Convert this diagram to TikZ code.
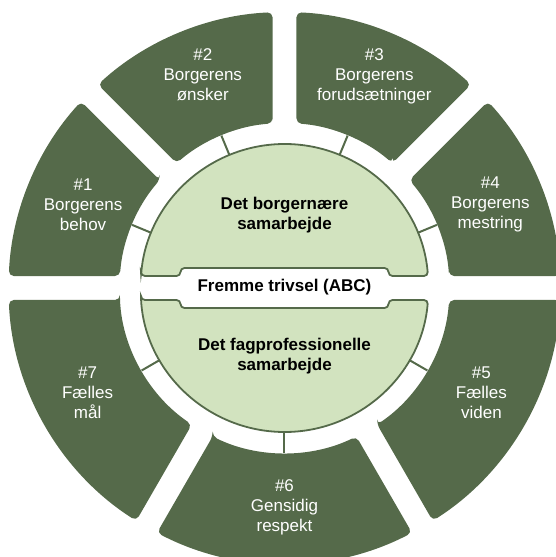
\documentclass[tikz,border=0pt]{standalone}
\usepackage{fontspec}
\setmainfont{Liberation Sans}
\definecolor{ringgreen}{HTML}{556A4A}
\definecolor{coregreen}{HTML}{D2E3BF}

\begin{document}
\begin{tikzpicture}[x=1pt, y=1pt,
        segment/.style={fill=ringgreen, rounded corners=5pt},
        halfdisc/.style={fill=coregreen, draw=ringgreen, line width=1.8pt, rounded corners=4pt},
        spoke/.style={draw=ringgreen, line width=2pt},
        seglabel/.style={text=white, align=center, font=\fontsize{17}{20}\selectfont},
        corelabel/.style={text=black, align=center, font=\fontsize{17}{20}\selectfont\bfseries}]
            \useasboundingbox (-284.5, -269) rectangle (270.5, 288);

            % outer ring, one sector per step
            \foreach \a/\b in {135/180, 90/135, 45/90, 0/45, -60/0, -120/-60, -180/-120}
                \fill[segment] ({\a+4.17}:165) -- ({\a+2.49}:276)
                    arc[start angle={\a+2.49}, end angle={\b-2.49}, radius=276]
                    -- ({\b-4.17}:165)
                    arc[start angle={\b-4.17}, end angle={\a+4.17}, radius=165] -- cycle;

            % the two halves of the core
            \draw[halfdisc] (175.22:144) -- (-104, 12) -- (-104, 20) -- (104, 20) -- (104, 12)
                -- (4.78:144) arc[start angle=4.78, end angle=175.22, radius=144] -- cycle;
            \draw[halfdisc] (-175.22:144) -- (-104, -12) -- (-104, -20) -- (104, -20) -- (104, -12)
                -- (-4.78:144) arc[start angle=-4.78, end angle=-175.22, radius=144] -- cycle;

            % spokes from core to ring
            \coordinate (in1) at (157.5:144);
            \coordinate (out1) at (157.5:165);
            \coordinate (in2) at (112.5:144);
            \coordinate (out2) at (112.5:165);
            \coordinate (in3) at (67.5:144);
            \coordinate (out3) at (67.5:165);
            \coordinate (in4) at (22.5:144);
            \coordinate (out4) at (22.5:165);
            \coordinate (in5) at (-30:144);
            \coordinate (out5) at (-30:165);
            \coordinate (in6) at (-90:144);
            \coordinate (out6) at (-90:165);
            \coordinate (in7) at (-150:144);
            \coordinate (out7) at (-150:165);

            \draw[spoke] (in1) -- (out1);
            \draw[spoke] (in2) -- (out2);
            \draw[spoke] (in3) -- (out3);
            \draw[spoke] (in4) -- (out4);
            \draw[spoke] (in5) -- (out5);
            \draw[spoke] (in6) -- (out6);
            \draw[spoke] (in7) -- (out7);

            % texts
            \node[seglabel] (need) at (157.5:218) {\#1\\Borgerens\\behov};
            \node[seglabel] (wish) at (111:228) {\#2\\Borgerens\\ønsker};
            \node[seglabel] (premise) at (67:230) {\#3\\Borgerens\\forudsætninger};
            \node[seglabel] (mastery) at (22:222) {\#4\\Borgerens\\mestring};
            \node[seglabel] (knowledge) at (-28:223) {\#5\\Fælles\\viden};
            \node[seglabel] (respect) at (-90:219) {\#6\\Gensidig\\respekt};
            \node[seglabel] (goal) at (-152:223) {\#7\\Fælles\\mål};

            \node[corelabel] (citizen) at (0, 72.5) {Det borgernære\\samarbejde};
            \node[corelabel] (professional) at (0, -68) {Det fagprofessionelle\\samarbejde};
            \node[corelabel] (wellbeing) at (0, 1) {Fremme trivsel (ABC)};
        \end{tikzpicture}
\end{document}
